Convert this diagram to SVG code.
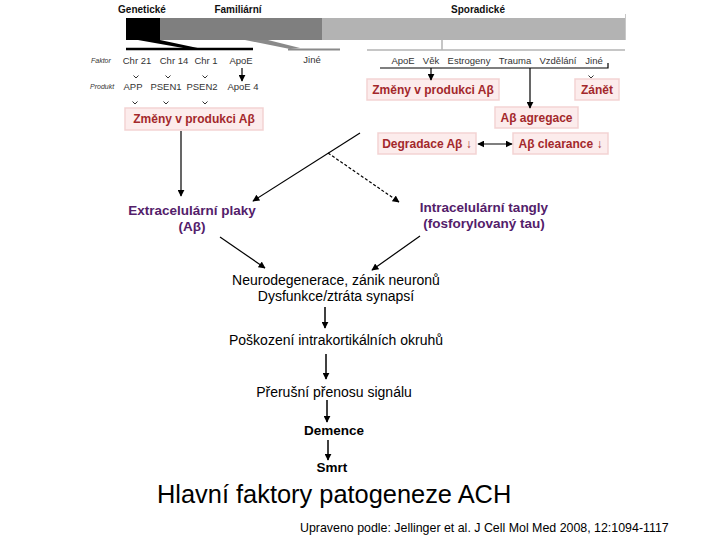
<svg xmlns="http://www.w3.org/2000/svg" width="720" height="540" viewBox="0 0 720 540">
<style>
.hdr{font-family:"Liberation Sans",Arial,sans-serif;font-size:10px;font-weight:bold;fill:#111;text-anchor:middle}
.sm{font-family:"Liberation Sans",Arial,sans-serif;font-size:9.5px;fill:#333;text-anchor:middle}
.it{font-family:"Liberation Sans",Arial,sans-serif;font-size:7px;font-style:italic;fill:#333}
.box{fill:#fcecec;stroke:#f3d3d3;stroke-width:1.5}
.rt{font-family:"Liberation Sans",Arial,sans-serif;font-size:12px;font-weight:bold;fill:#a3282b;text-anchor:middle}
.pt{font-family:"Liberation Sans",Arial,sans-serif;font-size:13.5px;font-weight:bold;fill:#53206a;text-anchor:middle}
.nt{font-family:"Liberation Sans",Arial,sans-serif;font-size:14px;fill:#000;text-anchor:middle}
.bt{font-family:"Liberation Sans",Arial,sans-serif;font-size:13.5px;font-weight:bold;fill:#000;text-anchor:middle}
.ln{stroke:#000;stroke-width:1.2;fill:none}
.tick{stroke:#333;stroke-width:1;fill:none}
.ar{stroke:#000;stroke-width:1.2;fill:none;marker-end:url(#ah)}
.ar2{stroke:#000;stroke-width:1.5;fill:none;marker-end:url(#ah)}
</style>
<defs>
<marker id="ah" viewBox="0 0 10 10" refX="9" refY="5" markerWidth="7" markerHeight="7" markerUnits="userSpaceOnUse" orient="auto">
<path d="M0,0 L10,5 L0,10 z" fill="#000"/>
</marker>
<marker id="ahs" viewBox="0 0 10 10" refX="1" refY="5" markerWidth="7" markerHeight="7" markerUnits="userSpaceOnUse" orient="auto">
<path d="M10,0 L0,5 L10,10 z" fill="#000"/>
</marker>
</defs>
<rect width="720" height="540" fill="#fff"/>

<g id="top-bar">
<text class="hdr" x="142" y="13">Genetické</text>
<text class="hdr" x="238" y="13">Familiární</text>
<text class="hdr" x="478" y="13">Sporadické</text>
<rect x="126" y="18" width="34" height="22" fill="#000"/>
<rect x="160" y="18" width="162" height="22" fill="#7f7f7f"/>
<rect x="322" y="18" width="303" height="22" fill="#b3b3b3"/>
<line x1="625.5" y1="14" x2="625.5" y2="40" stroke="#c8c8c8" stroke-width="1"/>
<polygon points="138,40 160,40 200,48.5 186,48.5" fill="#000"/>
<line x1="126" y1="49" x2="253" y2="49" stroke="#000" stroke-width="2.5"/>
<polygon points="245,40 268,40 300,48 290,49" fill="#8a8a8a"/>
<line x1="288" y1="49.5" x2="340" y2="49.5" stroke="#8a8a8a" stroke-width="2"/>
<line x1="442" y1="40" x2="442" y2="50" stroke="#b3b3b3" stroke-width="1.5"/>
<line x1="367" y1="50" x2="625" y2="50" stroke="#b3b3b3" stroke-width="1.5"/>
</g>

<g id="factors-left">
<text class="it" x="91" y="63">Faktor</text>
<text class="sm" x="137" y="64">Chr 21</text>
<text class="sm" x="174" y="64">Chr 14</text>
<text class="sm" x="206" y="64">Chr 1</text>
<text class="sm" x="241" y="64">ApoE</text>
<text class="sm" x="312" y="63">Jiné</text>
<text class="it" x="90" y="89">Produkt</text>
<text class="sm" x="133" y="90">APP</text>
<text class="sm" x="166" y="90">PSEN1</text>
<text class="sm" x="202" y="90">PSEN2</text>
<text class="sm" x="243" y="90">ApoE 4</text>
</g>

<g id="factors-right">
<text class="sm" x="403" y="64">ApoE</text>
<text class="sm" x="431" y="64">Věk</text>
<text class="sm" x="469" y="64">Estrogeny</text>
<text class="sm" x="515" y="64">Trauma</text>
<text class="sm" x="558" y="64">Vzdělání</text>
<text class="sm" x="594" y="64">Jiné</text>
</g>

<g id="node-zmeny-left">
<rect class="box" x="125" y="108" width="138" height="22"/>
<text class="rt" x="194" y="123">Změny v produkci Aβ</text>
</g>
<g id="node-zmeny-right">
<rect class="box" x="367" y="79" width="132" height="21"/>
<text class="rt" x="433" y="94">Změny v produkci Aβ</text>
</g>
<g id="node-zanet">
<rect class="box" x="575" y="79" width="44" height="21"/>
<text class="rt" x="597" y="94">Zánět</text>
</g>
<g id="node-agregace">
<rect class="box" x="495" y="107" width="83" height="21"/>
<text class="rt" x="536.5" y="122">Aβ agregace</text>
</g>
<g id="node-degradace">
<rect class="box" x="378" y="133" width="98" height="21"/>
<text class="rt" x="427" y="148">Degradace Aβ ↓</text>
</g>
<g id="node-clearance">
<rect class="box" x="513" y="133" width="95" height="21"/>
<text class="rt" x="560.5" y="148">Aβ clearance ↓</text>
</g>

<g id="node-plaky">
<text class="pt" x="192" y="215">Extracelulární plaky</text>
<text class="pt" x="192" y="231">(Aβ)</text>
</g>
<g id="node-tangly">
<text class="pt" x="484" y="212">Intracelulární tangly</text>
<text class="pt" x="484" y="228">(fosforylovaný tau)</text>
</g>
<g id="node-neuro">
<text class="nt" x="336" y="285">Neurodegenerace, zánik neuronů</text>
<text class="nt" x="336" y="301">Dysfunkce/ztráta synapsí</text>
</g>
<g id="node-poskozeni">
<text class="nt" x="336" y="345">Poškození intrakortikálních okruhů</text>
</g>
<g id="node-preruseni">
<text class="nt" x="334" y="397">Přerušní přenosu signálu</text>
</g>
<g id="node-demence">
<text class="bt" x="334" y="435">Demence</text>
</g>
<g id="node-smrt">
<text class="bt" x="332" y="472">Smrt</text>
</g>

<g id="connectors">
<path class="tick" d="M133.5,75.5 l2.5,2.5 l2.5,-2.5"/>
<path class="tick" d="M165.5,75.5 l2.5,2.5 l2.5,-2.5"/>
<path class="tick" d="M202.5,75.5 l2.5,2.5 l2.5,-2.5"/>
<line class="ar" x1="242" y1="68" x2="242" y2="81"/>
<path class="tick" d="M132.5,101.5 l2.5,2.5 l2.5,-2.5"/>
<path class="tick" d="M163.5,101.5 l2.5,2.5 l2.5,-2.5"/>
<path class="tick" d="M202.5,101.5 l2.5,2.5 l2.5,-2.5"/>
<polyline class="ln" points="380,68 608,68 608,63"/>
<line class="ar" x1="431" y1="68" x2="431" y2="80"/>
<line class="ar" x1="530" y1="68" x2="530" y2="108"/>
<path class="tick" d="M588.5,75.5 l2.5,2.5 l2.5,-2.5"/>
<line class="ln" x1="478" y1="144" x2="512" y2="144" marker-start="url(#ahs)" marker-end="url(#ah)"/>
<line class="ar" x1="181" y1="131" x2="181" y2="196"/>
<line class="ar" x1="360" y1="133" x2="253" y2="201"/>
<line class="ar" x1="328" y1="153" x2="399" y2="202" stroke-dasharray="3,2"/>
<line class="ar" x1="220" y1="237" x2="265" y2="268"/>
<line class="ar" x1="420" y1="236" x2="372" y2="270"/>
<line class="ar2" x1="325" y1="307" x2="325" y2="328"/>
<line class="ar2" x1="326" y1="354" x2="326" y2="379"/>
<line class="ar2" x1="327" y1="400" x2="327" y2="422"/>
<line class="ar2" x1="328" y1="440" x2="328" y2="460"/>
</g>

<g id="caption">
<text x="157" y="503" font-family="Liberation Sans, Arial, sans-serif" font-size="25.4px" fill="#000">Hlavní faktory patogeneze ACH</text>
<text x="300" y="532" font-family="Liberation Sans, Arial, sans-serif" font-size="12.4px" fill="#000">Upraveno podle: Jellinger et al. J Cell Mol Med 2008, 12:1094-1117</text>
</g>
</svg>
